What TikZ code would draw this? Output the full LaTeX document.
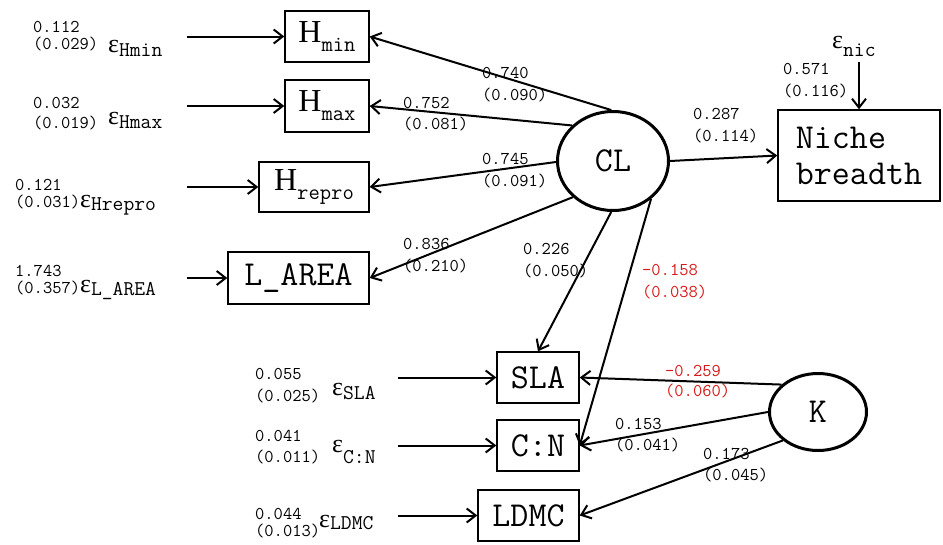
\documentclass[tikz,border=0pt]{standalone}
\usepackage{fontspec}
\setmainfont{Latin Modern Mono}
\newfontfamily\serifH{Liberation Serif}
\usetikzlibrary{arrows.meta,shapes.geometric}
\definecolor{myred}{RGB}{215,25,25}
\newcommand{\boxH}[1]{{\serifH\fontsize{32}{36}\selectfont H}\raisebox{-9pt}{\fontsize{22}{22}\selectfont #1}}
\newcommand{\epsl}[2]{{\serifH\fontsize{26}{26}\selectfont ε}\raisebox{#2}{\fontsize{21}{21}\selectfont #1}}
\begin{document}
\begin{tikzpicture}[x=1pt,y=-1pt,
  obs/.style={draw, line width=1.4pt, inner sep=0pt, font=\fontsize{35}{36}\selectfont},
  lat/.style={draw, ellipse, line width=3pt, inner sep=0pt, font=\fontsize{35}{36}\selectfont},
  num/.style={font=\fontsize{18}{#1}\selectfont, align=left, anchor=north west, inner sep=0pt},
  eps/.style={anchor=base west, inner sep=0pt},
  arr/.style={line width=2pt, -{Straight Barb[length=9pt,width=14pt,line width=2pt]}}]
\useasboundingbox (0,0) rectangle (943,544);

% observed boxes
\node[obs, minimum width=84pt, minimum height=51pt] (Hmin) at (327,36.5) {\boxH{min}};
\node[obs, minimum width=84pt, minimum height=52pt] (Hmax) at (327,106) {\boxH{max}};
\node[obs, minimum width=110pt, minimum height=50pt] (Hrepro) at (314,187) {\boxH{repro}};
\node[obs, minimum width=141pt, minimum height=52pt] (LAREA) at (298.5,278) {L\_AREA};
\node[obs, minimum width=162pt, minimum height=91pt, align=left] (Niche) at (859,155.5) {Niche\\breadth};
\node[obs, minimum width=82pt, minimum height=51pt] (SLA) at (538,377.5) {SLA};
\node[obs, minimum width=82pt, minimum height=51pt] (CN) at (538,445.5) {C:N};
\node[obs, minimum width=101pt, minimum height=51pt] (LDMC) at (528.5,515.5) {LDMC};

% latent
\node[lat, minimum width=111pt, minimum height=99pt] (CL) at (613,161) {CL};
\node[lat, minimum width=97pt, minimum height=77pt] (K) at (818,412) {K};

% error terms
\node[eps] (eHmin) at (108,52) {\epsl{Hmin}{-4pt}};
\node[eps] (eHmax) at (108,124) {\epsl{Hmax}{-4pt}};
\node[eps] (eHrepro) at (80,207) {\epsl{Hrepro}{-3pt}};
\node[eps] (eLAREA) at (80,292) {\epsl{L\_AREA}{-3pt}};
\node[eps] (eSLA) at (332,395) {\epsl{SLA}{-4pt}};
\node[eps] (eCN) at (332,452) {\epsl{C:N}{-11pt}};
\node[eps] (eLDMC) at (319,527) {\epsl{LDMC}{-2pt}};
\node[eps] (eNic) at (832,48) {\epsl{nic}{-8pt}};

\node[num=17] (nHmin) at (33,21) {0.112\\(0.029)};
\node[num=20] (nHmax) at (33,97) {0.032\\(0.019)};
\node[num=17] (nHrepro) at (15,179) {0.121\\(0.031)};
\node[num=17] (nLAREA) at (15,265) {1.743\\(0.357)};
\node[num=22] (nSLA) at (255,368) {0.055\\(0.025)};
\node[num=21] (nCN) at (255,430) {0.041\\(0.011)};
\node[num=17] (nLDMC) at (255,508) {0.044\\(0.013)};
\node[num=22] (nNic) at (783,63) {0.571\\(0.116)};

\coordinate (sHmin) at (187,36.5);
\coordinate (sHmax) at (187,106);
\coordinate (sHrepro) at (187,187);
\coordinate (sLAREA) at (187,278);
\coordinate (sSLA) at (398,377.5);
\coordinate (sCN) at (398,445.5);
\coordinate (sLDMC) at (398,515.5);
\coordinate (sNic) at (859,62);

\draw[arr] (sHmin) -- (Hmin.west);
\draw[arr] (sHmax) -- (Hmax.west);
\draw[arr] (sHrepro) -- (Hrepro.west);
\draw[arr] (sLAREA) -- (LAREA.west);
\draw[arr] (sSLA) -- (SLA.west);
\draw[arr] (sCN) -- (CN.west);
\draw[arr] (sLDMC) -- (LDMC.west);
\draw[arr] (sNic) -- (Niche.north);

% paths from CL
\draw[arr] (CL.92) -- (Hmin.east);
\draw[arr] (CL.139) -- (Hmax.east);
\draw[arr] (CL.181) -- (Hrepro.east);
\draw[arr] (CL.222) -- (LAREA.east);
\draw[arr] (CL.268) -- (SLA.north);
\draw[arr] (CL.315) -- (CN.east);
\draw[arr] (CL.0) -- (Niche.west);
% paths from K
\draw[arr] (K.143) -- (SLA.east);
\draw[arr] (K.180) -- (CN.east);
\draw[arr] (K.219) -- (LDMC.east);

% path labels
\node[num=22] (l1) at (482,67) {0.740\\(0.090)};
\node[num=21] (l2) at (403,97) {0.752\\(0.081)};
\node[num=22] (l3) at (482,153) {0.745\\(0.091)};
\node[num=22] (l4) at (403,238) {0.836\\(0.210)};
\node[num=22] (l5) at (523,243) {0.226\\(0.050)};
\node[num=22, text=myred] (l6) at (642,264) {-0.158\\(0.038)};
\node[num=22] (l7) at (693,108) {0.287\\(0.114)};
\node[num=20, text=myred] (l8) at (665,365) {-0.259\\(0.060)};
\node[num=21] (l9) at (615,418) {0.153\\(0.041)};
\node[num=21] (l10) at (703,448) {0.173\\(0.045)};
\end{tikzpicture}
\end{document}
